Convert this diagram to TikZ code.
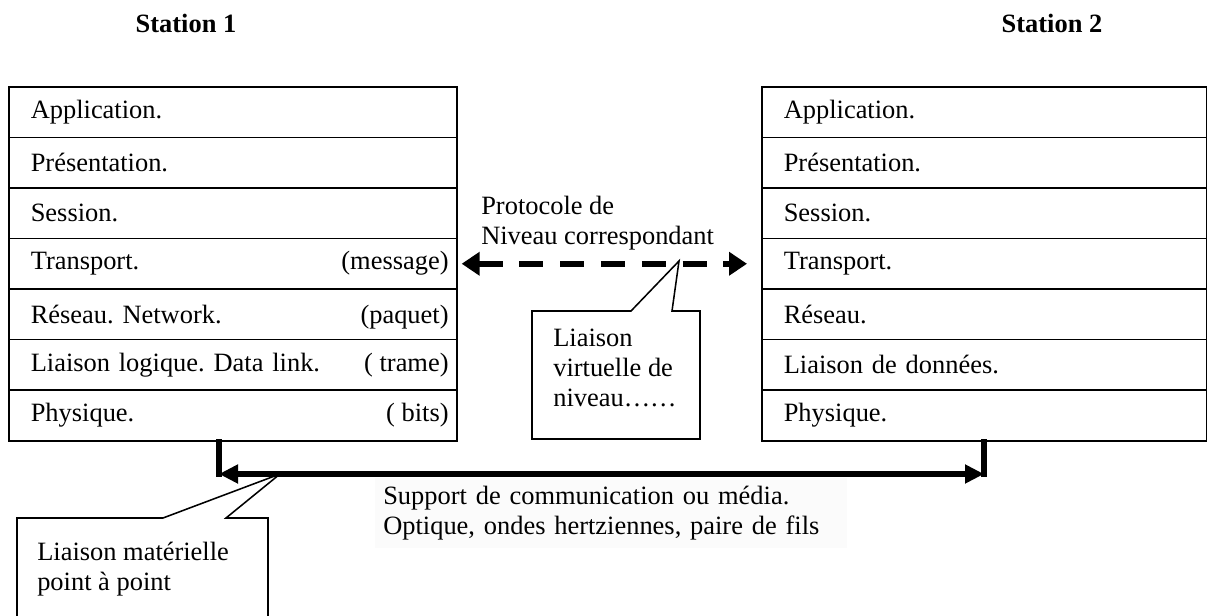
\documentclass[tikz,border=0pt]{standalone}
\usepackage{fontspec}
\setmainfont{Liberation Serif}
\usetikzlibrary{arrows.meta,positioning}
\newcommand\fs{\fontsize{18.8}{21.3}\selectfont\frenchspacing}

\begin{document}
\begin{tikzpicture}[x=0.025cm,y=-0.025cm,font=\fs,
  layer/.style={draw,line width=1.1pt,anchor=north west,align=left,inner xsep=0.55cm,inner ysep=0pt,minimum height=1.264cm},
  titre/.style={font=\fs\bfseries},
  txt/.style={inner sep=0pt,align=left,anchor=west},
  bus/.style={line width=4.2pt},
  peer/.style={line width=4.2pt,dash pattern=on 0.6cm off 0.42cm,{Triangle[length=0.45cm,width=0.57cm]}-{Triangle[length=0.45cm,width=0.57cm]}},
  bulle/.style={draw,line width=1.1pt,fill=white}]
\useasboundingbox (0,0) rectangle (1207,616);
% les deux stations
\node[titre] (st1) at (186,23) {Station 1};
\node[titre] (st2) at (1052,23) {Station 2};
\foreach \t [count=\i] in {Application.,Présentation.,Session.,Transport.,Réseau. Network.,Liaison logique. Data link.,Physique.}
  \node[layer,text width=10.1cm] (g\i) at (8,{86+(\i-1)*50.57}) {\t};
\foreach \t [count=\i] in {Application.,Présentation.,Session.,Transport.,Réseau.,Liaison de données.,Physique.}
  \node[layer,text width=10.025cm] (d\i) at (761,{86+(\i-1)*50.57}) {\t};
\foreach \r [count=\i from 4] in {{(message)},{(paquet)},{( trame)},{( bits)}}
  \node[anchor=base east,inner xsep=0.22cm] (u\i) at (g\i.base east) {\r};
% protocole de niveau
\coordinate (v) at (679,261);
\draw[peer,shorten <=0.1cm,shorten >=0.35cm] (g4.east) -- (d4.west);
\node[txt] (proto) at (481,223) {Protocole de\\Niveau correspondant};
\draw[bulle] (532,439) -- (532,311) -- (631,311) -- (v) -- (672,311) -- (700,311) -- (700,439) -- cycle;
\node[txt] (virt) at (553,368) {Liaison\\virtuelle de\\niveau……};
% support physique
\node[txt,fill=black!1.5,anchor=north west,inner xsep=0.2cm,inner ysep=0.2cm,text width=11.4cm] (media) at (375,478) {Support de communication ou média.\\Optique, ondes hertziennes, paire de fils};
\coordinate (p1) at (219,474);
\coordinate (p2) at (984,474);
\draw[bus,line cap=rect] (g7.south -| p1) -- (p1) (d7.south -| p2) -- (p2);
\draw[bus,{Triangle[length=0.475cm,width=0.45cm]}-{Triangle[length=0.475cm,width=0.45cm]}] (p1) -- (p2);
\coordinate (w) at (280,474);
\draw[bulle] (17,625) -- (17,518) -- (163,518) -- (w) -- (226,518) -- (268,518) -- (268,625);
\node[txt] (mat) at (37,569) {Liaison matérielle\\point à point};
\end{tikzpicture}
\end{document}
